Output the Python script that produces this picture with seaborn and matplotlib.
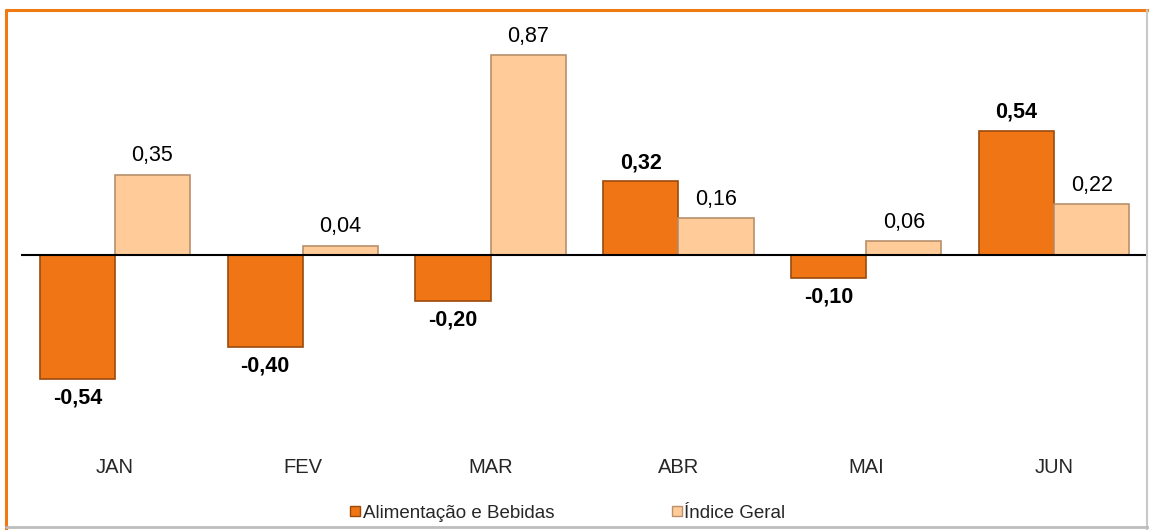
import matplotlib
matplotlib.use("Agg")
import matplotlib.pyplot as plt
import seaborn as sns
import pandas as pd
from matplotlib.lines import Line2D

months = ["JAN", "FEV", "MAR", "ABR", "MAI", "JUN"]
alimentacao = [-0.54, -0.40, -0.20, 0.32, -0.10, 0.54]
indice_geral = [0.35, 0.04, 0.87, 0.16, 0.06, 0.22]
series_names = ["Alimentação e Bebidas", "Índice Geral"]

df = pd.DataFrame({
    "mes": months * 2,
    "valor": alimentacao + indice_geral,
    "serie": [series_names[0]] * len(months) + [series_names[1]] * len(months),
})

sns.set_theme(style="white")
plt.rcParams["font.family"] = ["Liberation Sans", "DejaVu Sans"]

W, H = 1149, 530
fig = plt.figure(figsize=(W / 100, H / 100), dpi=100)
fig.patch.set_facecolor("white")

ax_left, ax_right, ax_top, ax_bottom = 21, 1148, 20, 440
ax = fig.add_axes([ax_left / W, 1 - ax_bottom / H, (ax_right - ax_left) / W, (ax_bottom - ax_top) / H])

colors = {series_names[0]: "#EF7515", series_names[1]: "#FFCB98"}
edges = {series_names[0]: "#9C4A0C", series_names[1]: "#B8906C"}

sns.barplot(data=df, x="mes", y="valor", hue="serie", order=months,
            hue_order=series_names, palette=colors, ax=ax, legend=False,
            width=0.8, saturation=1)

for i, cont in enumerate(ax.containers):
    name = series_names[i]
    for bar in cont:
        bar.set_edgecolor(edges[name])
        bar.set_linewidth(1.2)
    vals = alimentacao if i == 0 else indice_geral
    for bar, v in zip(cont, vals):
        x = bar.get_x() + bar.get_width() / 2
        txt = f"{v:.2f}".replace(".", ",")
        weight = "bold" if i == 0 else "normal"
        if v >= 0:
            ax.annotate(txt, (x, v), xytext=(0, 6), textcoords="offset points",
                        ha="center", va="bottom", fontsize=15.5,
                        fontweight=weight, color="black")
        else:
            ax.annotate(txt, (x, v), xytext=(0, -6), textcoords="offset points",
                        ha="center", va="top", fontsize=15.5,
                        fontweight=weight, color="black")

ax.axhline(0, color="black", lw=1.5, zorder=5)
ax.set_xlim(-0.5, len(months) - 0.5)
ax.set_ylim(-(ax_bottom - 255) / 230, (255 - ax_top) / 230)
ax.set_yticks([])
ax.set_xlabel("")
ax.set_ylabel("")
ax.tick_params(axis="x", length=0, pad=13, labelsize=14.5)
for s in ax.spines.values():
    s.set_visible(False)
ax.set_facecolor("none")

handles = [Line2D([0], [0], marker="s", linestyle="none", markersize=7,
                  markerfacecolor=colors[n], markeredgecolor=edges[n]) for n in series_names]
fig.legend(handles, series_names, loc="center", bbox_to_anchor=(567 / W, 1 - 513 / H),
           ncol=2, frameon=False, fontsize=13.5, handletextpad=0.05, columnspacing=6.2,
           handlelength=0.7)

# chart border
fig.add_artist(Line2D([6 / W, 1148 / W], [1 - 10 / H, 1 - 10 / H], color="#F07A12", lw=2.2))
fig.add_artist(Line2D([6 / W, 6 / W], [1 - 10 / H, 0], color="#F07A12", lw=2.2))
fig.add_artist(Line2D([1147 / W, 1147 / W], [1 - 10 / H, 0], color="#C8C8C8", lw=1.5))
fig.add_artist(Line2D([6 / W, 1149 / W], [1 - 527 / H, 1 - 527 / H], color="#BDBDBD", lw=2))

fig.savefig("out.png", dpi=100)
